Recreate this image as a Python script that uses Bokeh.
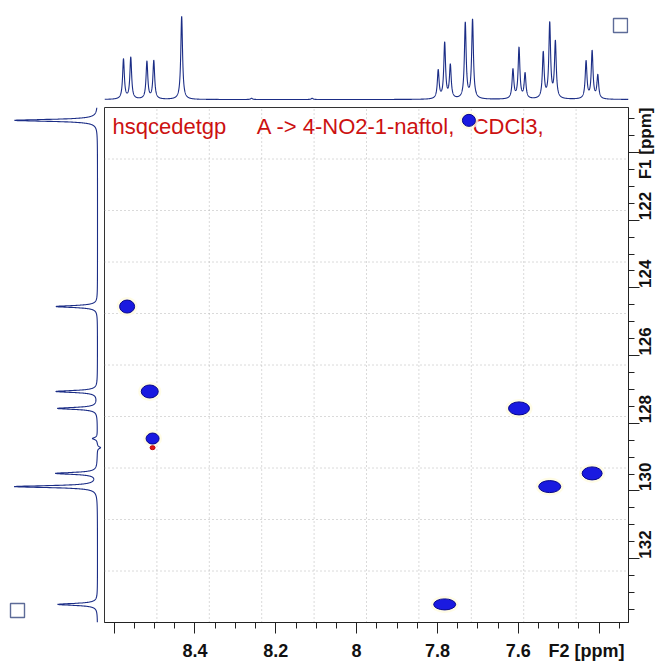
import math
import numpy as np
from bokeh.plotting import figure
from bokeh.layouts import gridplot
from bokeh.models import Range1d, FixedTicker
from bokeh.embed import file_html
from bokeh.resources import INLINE
from bokeh.core.properties import value

# ---------------- data ----------------
f2_view = [8.624, 7.327]          # F2 (1H) window in ppm, left -> right
f1_view = [133.885, 118.67]       # F1 (13C) window in ppm, bottom -> top

# 1H projection (top): line positions (ppm) and relative heights
h1_ppm = [8.577, 8.559, 8.519, 8.502, 8.433, 8.26, 8.11,
          7.798, 7.782, 7.768, 7.731, 7.713,
          7.613, 7.598, 7.583, 7.538, 7.522, 7.508,
          7.432, 7.417, 7.403]
h1_int = [48, 50, 45, 46, 100, 1.5, 1.5,
          34, 67, 40, 91, 95,
          35, 61, 30, 55, 90, 68,
          45, 57, 28]

# 13C projection (left): positions (ppm) and relative heights
c13_ppm = [119.05, 124.55, 127.06, 127.56, 128.45, 128.72, 129.48, 129.87, 133.35]
c13_int = [100, 50, 50, 48, 6, -4, 50, 100, 48]

# HSQC cross peaks (F2 ppm, F1 ppm) and contour extent (px)
cp_f2 = [7.722, 8.568, 8.512, 8.505, 7.598, 7.522, 7.417, 7.782]
cp_f1 = [119.05, 124.55, 127.06, 128.45, 127.56, 129.87, 129.48, 133.35]
cp_w = [13, 15, 17, 13, 21, 22, 20, 22]
cp_h = [12, 13, 13, 11, 13, 12, 13, 11]

# small negative (red) contour
neg_f2 = [8.505]
neg_f1 = [128.72]

# axes
NB = "\u00a0"
f2_ticks = [8.6, 8.4, 8.2, 8.0, 7.8, 7.6, 7.4]
f2_minor = [round(8.65 - 0.05 * i, 2) for i in range(27)]
f2_labels = {8.6: "", 7.4: "F2 [ppm]" + NB * 5}
f1_ticks = [120, 122, 124, 126, 128, 130, 132, 134]
f1_minor = [118.5 + 0.5 * i for i in range(32)]
f1_labels = {120: "F1 [ppm]"}
title_text = ("hsqcedetgp" + NB * 5 + "A -> 4-NO2-1-naftol," + NB * 3 + "CDCl3,")

# ---------------- layout constants ----------------
SIDE_W, TOP_H = 104, 107
FRAME_W, FRAME_H = 524, 515
RIGHT_B, BOTTOM_B = 39, 39
SPEC = "#1b2d86"
AXIS_FONT = "Liberation Sans"

xr = Range1d(f2_view[0], f2_view[1])
yr = Range1d(f1_view[0], f1_view[1])
top_yr = Range1d(-9.6, 119.3)
left_xr = Range1d(-116.9, 8.4)


def lorentz(axis, centers, heights, gamma):
    out = np.zeros_like(axis)
    for c, a in zip(centers, heights):
        out += a * gamma ** 2 / ((axis - c) ** 2 + gamma ** 2)
    return out


def base_fig(**kw):
    p = figure(toolbar_location=None, output_backend="svg",
               min_border_left=0, min_border_top=0,
               background_fill_color="white", border_fill_color="white", **kw)
    p.grid.visible = False
    return p


# ---------------- top projection ----------------
top = base_fig(frame_width=FRAME_W, frame_height=TOP_H, x_range=xr, y_range=top_yr,
               min_border_right=RIGHT_B, min_border_bottom=0,
               x_axis_location=None, y_axis_location=None, outline_line_color=None)
ax_h = np.linspace(f2_view[0], f2_view[1], 7000)
top.line(ax_h, lorentz(ax_h, h1_ppm, h1_int, 0.0026), line_color=SPEC, line_width=1.1)
sq_top_x = f2_view[0] + (620 - SIDE_W) / FRAME_W * (f2_view[1] - f2_view[0])
sq_top_y = top_yr.start + (TOP_H - 25) / TOP_H * (top_yr.end - top_yr.start)
top.rect(x=[sq_top_x], y=[sq_top_y], width=14, height=14, width_units="screen",
         height_units="screen", fill_color=None, line_color="#5d6b98", line_width=1.4)

# ---------------- left projection ----------------
left = base_fig(frame_width=SIDE_W, frame_height=FRAME_H, x_range=left_xr, y_range=yr,
                min_border_right=0, min_border_bottom=BOTTOM_B,
                x_axis_location=None, y_axis_location=None, outline_line_color=None)
ax_c = np.linspace(f1_view[0], f1_view[1], 7000)
left.line(-lorentz(ax_c, c13_ppm, c13_int, 0.035), ax_c, line_color=SPEC, line_width=1.1)
sq_l_x = left_xr.start + 17 / SIDE_W * (left_xr.end - left_xr.start)
sq_l_y = f1_view[1] + (610 - TOP_H) / FRAME_H * (f1_view[0] - f1_view[1])
left.rect(x=[sq_l_x], y=[sq_l_y], width=14, height=14, width_units="screen",
          height_units="screen", fill_color=None, line_color="#5d6b98", line_width=1.4)

# ---------------- main HSQC ----------------
main = base_fig(frame_width=FRAME_W, frame_height=FRAME_H, x_range=xr, y_range=yr,
                x_axis_location="below", y_axis_location="right",
                min_border_right=0, min_border_bottom=0, outline_line_color="#333333")

gx = np.linspace(f2_view[0], f2_view[1], 11)[1:-1]
gy = np.linspace(f1_view[0], f1_view[1], 11)[1:-1]
main.segment(x0=gx, y0=[f1_view[0]] * len(gx), x1=gx, y1=[f1_view[1]] * len(gx),
             line_color="#b4b4b4", line_dash="1 3", line_width=1)
main.segment(x0=[f2_view[0]] * len(gy), y0=gy, x1=[f2_view[1]] * len(gy), y1=gy,
             line_color="#b4b4b4", line_dash="1 3", line_width=1)

title_x = f2_view[0] + (112 - SIDE_W) / FRAME_W * (f2_view[1] - f2_view[0])
title_y = f1_view[1] + (126 - TOP_H) / FRAME_H * (f1_view[0] - f1_view[1])
main.text(x=[title_x], y=[title_y], text=[title_text], text_font=value("Liberation Sans"),
          text_font_size="22px", text_color="#cc1111", text_baseline="middle", text_align="left")

main.ellipse(x=cp_f2, y=cp_f1, width=[w + 6 for w in cp_w], height=[h + 6 for h in cp_h],
             width_units="screen", height_units="screen", fill_color="#fffbe0",
             line_color=None, fill_alpha=0.8)
main.ellipse(x=cp_f2, y=cp_f1, width=cp_w, height=cp_h, width_units="screen",
             height_units="screen", fill_color="#1a1ae0", line_color="#05058c", line_width=1)
main.ellipse(x=neg_f2, y=neg_f1, width=5, height=4, width_units="screen",
             height_units="screen", fill_color="#e01818", line_color="#c00000")

for ax in (main.xaxis[0], main.yaxis[0]):
    ax.major_label_text_font = AXIS_FONT
    ax.major_label_text_font_style = "bold"
    ax.major_label_text_color = "#111111"
    ax.axis_line_color = "#222222"
    ax.major_tick_line_color = "#222222"
    ax.minor_tick_line_color = "#222222"
    ax.major_tick_in = 0
    ax.minor_tick_in = 0
    ax.major_tick_out = 11
    ax.minor_tick_out = 6

main.xaxis.major_label_text_font_size = "18px"
main.xaxis.ticker = FixedTicker(ticks=f2_ticks, minor_ticks=f2_minor)
main.xaxis.major_label_overrides = f2_labels
main.xaxis.major_label_standoff = 7
main.yaxis.major_label_text_font_size = "17px"
main.yaxis.ticker = FixedTicker(ticks=f1_ticks, minor_ticks=f1_minor)
main.yaxis.major_label_overrides = f1_labels
main.yaxis.major_label_orientation = math.pi / 2
main.yaxis.major_label_standoff = 6

layout = gridplot([[None, top], [left, main]], toolbar_location=None)

with open("out.html", "w") as f:
    f.write(file_html(layout, INLINE))
